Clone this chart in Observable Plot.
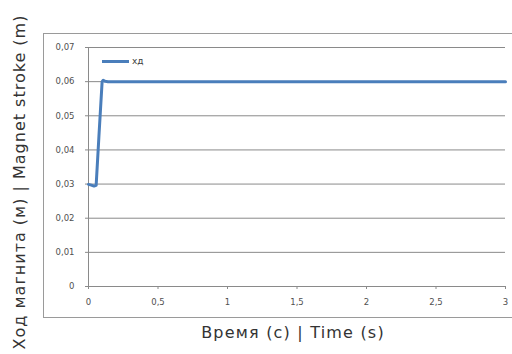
<!DOCTYPE html>
<html>
<head>
<meta charset="utf-8">
<script src="https://cdn.jsdelivr.net/npm/d3@7"></script>
<script src="https://cdn.jsdelivr.net/npm/@observablehq/plot@0.6"></script>
<style>
  html, body { margin: 0; padding: 0; background: #fff; }
  #wrap { position: relative; width: 512px; height: 354px; overflow: hidden; font-family: "DejaVu Sans", sans-serif; }
  #frame { position: absolute; left: 43px; top: 33px; width: 490px; height: 285px; border: 1px solid #9a9a9a; box-sizing: border-box; }
  #chart { position: absolute; left: 0; top: 0; }
  #legend-line { position: absolute; left: 102px; top: 60px; width: 27px; height: 3px; background: #4A7EBB; }
  #legend-text { position: absolute; left: 132px; top: 55px; font-size: 9px; line-height: 12px; color: #404040; }
</style>
</head>
<body>
<div id="wrap">
  <div id="frame"></div>
  <div id="chart"></div>
  <div id="legend-line"></div>
  <div id="legend-text">хд</div>
</div>
<script>
const times  = [0, 0.02, 0.04, 0.055, 0.075, 0.098, 0.106, 0.12, 0.14, 0.5, 1, 1.5, 2, 2.5, 3];
const stroke = [0.0299, 0.0297, 0.0294, 0.0296, 0.044, 0.0600, 0.0604, 0.0601, 0.0600, 0.06, 0.06, 0.06, 0.06, 0.06, 0.06];
const xTicks = [0, 0.5, 1, 1.5, 2, 2.5, 3];
const yTicks = [0, 0.01, 0.02, 0.03, 0.04, 0.05, 0.06, 0.07];
const xLabel = "Время (c) | Time (s)";
const yLabel = "Ход магнита (м) | Magnet stroke (m)";

const data = times.map((t, i) => ({t, v: stroke[i]}));
const comma = d => String(d).replace(".", ",");

const chart = Plot.plot({
  width: 512,
  height: 354,
  marginLeft: 88,
  marginRight: 7,
  marginTop: 47,
  marginBottom: 68,
  style: {fontFamily: "DejaVu Sans, sans-serif", background: "transparent", overflow: "visible"},
  x: {domain: [0, 3]},
  y: {domain: [0, 0.07]},
  marks: [
    Plot.gridY(yTicks.filter(d => d > 0), {stroke: "#8a8a8a", strokeOpacity: 1}),
    Plot.ruleX([0], {stroke: "#8a8a8a"}),
    Plot.ruleY([0], {stroke: "#8a8a8a"}),
    Plot.axisY(yTicks, {tickSize: 3, tickPadding: 11, tickFormat: comma, fontSize: 8.5, stroke: "#8a8a8a", fill: "#505050", label: null}),
    Plot.axisX(xTicks, {tickSize: 3, tickPadding: 9, tickFormat: comma, fontSize: 8.5, stroke: "#8a8a8a", fill: "#505050", label: null}),
    Plot.line(data, {x: "t", y: "v", stroke: "#4A7EBB", strokeWidth: 3}),
    Plot.text([xLabel], {frameAnchor: "bottom", dy: 51, dx: -4, fontSize: 16, fill: "#333", lineAnchor: "bottom", textAnchor: "middle"}),
    Plot.text([yLabel], {frameAnchor: "left", dx: -69, dy: 15, rotate: -90, fontSize: 16, fill: "#333", lineAnchor: "middle", textAnchor: "middle"})
  ]
});
d3.select(chart).selectAll("text")
  .filter(function() { return this.textContent === xLabel; })
  .style("letter-spacing", "1.2px");
d3.select(chart).selectAll("text")
  .filter(function() { return this.textContent === yLabel; })
  .style("letter-spacing", "1.0px");
document.getElementById("chart").appendChild(chart);
</script>
</body>
</html>
